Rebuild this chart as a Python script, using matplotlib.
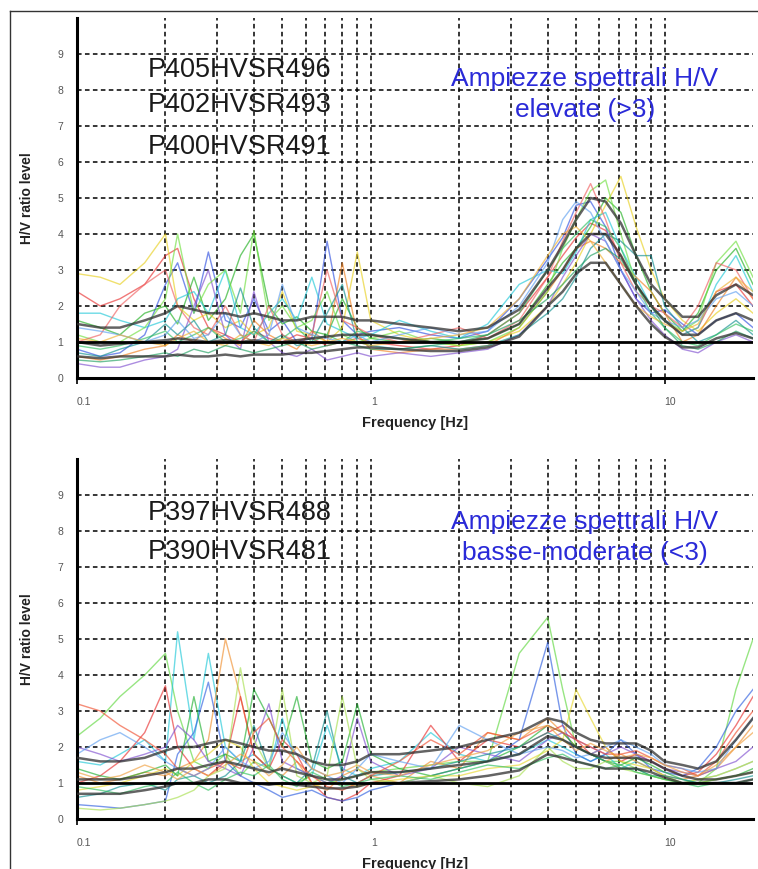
import matplotlib
matplotlib.use('Agg')
import matplotlib.pyplot as plt
from matplotlib.lines import Line2D

# frequency grid (Hz) shared by all the curves
freq = [0.10, 0.12, 0.14, 0.17, 0.20, 0.22, 0.25, 0.28, 0.32, 0.36, 0.40, 0.45, 0.50, 0.56, 0.63, 0.71, 0.80, 0.90,
        1.0, 1.25, 1.6, 2.0, 2.5, 3.2, 4.0, 4.5, 5.0, 5.6, 6.3, 7.1, 8.0, 9.0, 10.0, 11.5, 13.0, 15.0, 17.5, 20.0]

# top panel - single HVSR curves (high amplitudes > 3)
top_1 = [2.4, 2.0, 2.2, 2.6, 3.4, 3.6, 2.2, 1.4, 1.2, 1.0, 1.3, 1.1, 1.0, 1.2, 1.1, 0.9, 1.0, 1.1, 1.0, 0.9, 0.8, 0.9, 1.2, 1.8, 2.8, 3.4, 3.9, 4.3, 4.1, 3.4, 2.6, 2.0, 1.6, 1.2, 1.4, 2.4, 2.6, 2.0]
top_2 = [0.8, 0.6, 0.7, 1.2, 2.6, 3.2, 1.8, 3.5, 1.6, 1.4, 2.2, 1.3, 1.6, 1.0, 1.1, 3.8, 1.6, 1.2, 1.3, 1.4, 1.2, 1.1, 1.3, 2.2, 3.3, 3.9, 4.8, 4.9, 4.2, 3.0, 2.2, 1.8, 1.9, 1.5, 1.2, 1.6, 1.8, 1.4]
top_3 = [1.6, 1.4, 1.2, 1.8, 2.0, 1.5, 2.8, 1.6, 2.2, 3.4, 4.0, 2.0, 1.5, 1.7, 1.3, 1.2, 2.2, 1.4, 1.1, 1.0, 1.1, 1.0, 1.1, 1.5, 2.6, 3.2, 3.6, 4.2, 5.0, 4.6, 3.4, 2.4, 1.8, 1.3, 1.8, 3.0, 3.6, 2.6]
top_4 = [2.9, 2.8, 2.6, 3.2, 4.0, 2.0, 1.6, 1.8, 1.4, 1.6, 1.2, 1.4, 2.4, 1.3, 1.2, 1.0, 1.4, 3.5, 1.6, 1.2, 1.0, 0.9, 1.0, 1.3, 2.0, 2.6, 3.2, 4.0, 4.8, 5.6, 4.2, 3.0, 2.2, 1.6, 1.3, 1.8, 2.2, 1.8]
top_5 = [1.8, 1.8, 1.6, 1.4, 1.6, 2.2, 2.4, 1.8, 3.0, 1.4, 1.2, 1.8, 2.2, 1.6, 2.8, 1.5, 1.3, 1.1, 1.2, 1.6, 1.3, 1.1, 1.5, 2.6, 3.0, 2.9, 3.5, 4.4, 4.6, 3.6, 2.8, 2.0, 1.6, 1.2, 1.4, 2.6, 3.4, 2.4]
top_6 = [0.6, 0.5, 0.6, 0.8, 0.9, 1.2, 1.0, 1.4, 1.1, 0.9, 1.6, 1.2, 1.0, 0.8, 1.3, 1.0, 3.2, 1.2, 0.8, 0.7, 0.8, 0.8, 0.9, 1.4, 2.4, 3.0, 3.6, 3.8, 3.6, 3.2, 2.8, 2.4, 1.8, 1.0, 1.2, 2.0, 2.8, 2.2]
top_7 = [0.4, 0.3, 0.3, 0.5, 0.6, 0.8, 2.0, 3.0, 1.2, 0.8, 2.4, 1.0, 0.7, 0.6, 0.8, 0.5, 0.6, 0.7, 0.6, 0.7, 0.6, 0.7, 0.8, 1.2, 2.0, 2.8, 3.4, 4.0, 3.8, 3.0, 2.2, 1.6, 1.2, 0.8, 0.7, 1.0, 1.2, 1.0]
top_8 = [1.2, 1.0, 1.0, 1.4, 2.2, 4.0, 1.8, 2.6, 3.0, 1.8, 4.1, 1.6, 2.0, 1.4, 1.6, 2.4, 1.2, 1.0, 1.1, 1.3, 1.0, 0.9, 1.0, 1.4, 2.4, 3.6, 4.4, 5.2, 5.5, 4.0, 2.6, 2.0, 1.6, 1.3, 1.6, 3.2, 3.8, 2.8]
top_9 = [0.7, 0.6, 0.8, 1.0, 1.5, 1.2, 1.6, 1.0, 1.2, 2.5, 1.4, 1.0, 1.2, 0.9, 1.0, 1.8, 2.6, 1.0, 0.9, 0.8, 0.9, 0.8, 0.9, 1.2, 1.8, 2.2, 2.8, 3.6, 4.0, 3.8, 3.4, 3.4, 2.0, 1.4, 1.0, 1.2, 1.6, 1.2]
top_10 = [1.0, 1.2, 2.0, 2.6, 3.0, 2.0, 1.4, 1.2, 2.0, 1.2, 1.0, 2.0, 1.2, 1.0, 1.2, 3.0, 1.6, 1.4, 1.2, 1.0, 1.2, 1.4, 1.1, 1.6, 2.8, 3.8, 4.6, 5.4, 4.4, 3.2, 2.4, 2.0, 1.8, 1.4, 2.0, 3.2, 3.0, 2.2]
top_11 = [0.9, 0.8, 0.9, 1.1, 1.3, 1.0, 1.2, 1.4, 1.0, 1.1, 1.3, 1.0, 1.1, 1.4, 1.0, 1.2, 1.0, 1.3, 1.2, 1.1, 1.0, 1.1, 1.2, 1.8, 3.0, 3.6, 4.0, 4.4, 4.2, 3.6, 2.6, 1.8, 1.4, 1.0, 0.9, 1.2, 1.5, 1.3]
top_12 = [1.4, 1.3, 1.2, 1.0, 1.2, 1.6, 1.1, 1.2, 1.8, 1.2, 1.0, 1.2, 2.6, 1.4, 1.2, 1.1, 1.0, 1.2, 1.0, 1.2, 1.4, 1.2, 1.3, 2.0, 3.2, 4.4, 4.9, 4.6, 3.8, 3.0, 2.4, 1.8, 1.6, 1.4, 1.6, 2.2, 2.4, 2.0]
top_13 = [1.1, 1.0, 1.2, 1.0, 0.9, 1.1, 1.3, 1.0, 0.9, 1.2, 1.0, 0.9, 1.1, 1.0, 0.9, 1.0, 1.1, 1.0, 0.9, 1.0, 1.1, 1.2, 1.4, 2.2, 3.4, 4.0, 4.2, 3.8, 3.2, 2.6, 2.0, 1.7, 1.5, 1.3, 1.5, 2.4, 2.8, 2.4]
top_14 = [0.5, 0.45, 0.5, 0.6, 0.7, 0.6, 0.8, 0.7, 0.9, 0.8, 0.7, 0.8, 0.9, 1.0, 0.8, 0.9, 1.0, 0.9, 0.8, 0.8, 0.9, 1.0, 1.2, 1.6, 2.2, 2.6, 3.0, 3.4, 3.6, 3.3, 2.6, 2.0, 1.4, 0.9, 0.8, 1.0, 1.3, 1.1]

# top panel - average and +/- std curves
top_mean = [1.0, 0.9, 0.95, 1.0, 1.05, 1.1, 1.05, 1.0, 1.05, 1.0, 1.05, 1.0, 1.0, 1.05, 1.1, 1.15, 1.2, 1.2, 1.2, 1.1, 1.0, 1.0, 1.1, 1.5, 2.5, 3.0, 3.6, 4.0, 4.0, 3.4, 2.6, 2.0, 1.6, 1.2, 1.2, 1.6, 1.8, 1.6]
top_up = [1.5, 1.4, 1.4, 1.6, 1.8, 2.0, 1.9, 1.8, 1.8, 1.7, 1.8, 1.7, 1.6, 1.6, 1.7, 1.7, 1.7, 1.6, 1.6, 1.5, 1.4, 1.3, 1.4, 1.9, 3.0, 3.7, 4.4, 5.0, 4.9, 4.3, 3.4, 2.6, 2.2, 1.7, 1.7, 2.3, 2.6, 2.3]
top_low = [0.6, 0.55, 0.6, 0.6, 0.6, 0.65, 0.6, 0.6, 0.65, 0.6, 0.65, 0.65, 0.65, 0.7, 0.7, 0.75, 0.8, 0.85, 0.85, 0.8, 0.75, 0.75, 0.85, 1.15, 2.0, 2.4, 2.9, 3.2, 3.2, 2.6, 2.0, 1.5, 1.15, 0.85, 0.85, 1.1, 1.25, 1.1]

# bottom panel - single HVSR curves (low-moderate amplitudes < 3)
bot_1 = [2.3, 2.8, 3.4, 4.0, 4.6, 3.0, 1.6, 1.4, 1.8, 1.2, 1.6, 1.4, 1.2, 1.0, 1.2, 1.0, 1.1, 1.2, 1.3, 1.4, 1.5, 1.6, 1.6, 4.6, 5.6, 3.6, 2.0, 1.8, 1.6, 1.6, 1.4, 1.2, 1.1, 1.0, 1.0, 1.4, 3.6, 5.0]
bot_2 = [1.6, 1.5, 1.8, 2.2, 1.6, 5.2, 2.2, 4.6, 2.0, 1.6, 1.8, 1.4, 2.8, 1.4, 1.2, 2.6, 1.4, 1.2, 1.4, 1.6, 2.4, 1.8, 1.6, 1.8, 2.2, 2.0, 1.8, 1.6, 1.8, 1.4, 1.6, 1.4, 1.2, 1.0, 1.1, 1.2, 1.4, 1.6]
bot_3 = [1.2, 1.0, 1.1, 1.3, 1.2, 1.4, 1.6, 2.2, 5.0, 3.4, 1.8, 1.4, 1.2, 1.6, 1.0, 0.8, 1.2, 1.4, 1.2, 1.0, 1.6, 1.4, 2.4, 2.2, 2.8, 2.4, 2.0, 1.8, 1.6, 1.8, 1.6, 1.4, 1.2, 1.1, 1.2, 1.4, 2.0, 2.6]
bot_4 = [1.0, 1.2, 1.6, 2.4, 3.7, 2.0, 1.4, 1.2, 1.6, 3.4, 1.8, 1.4, 2.2, 1.8, 1.0, 0.6, 0.5, 0.7, 1.0, 1.2, 2.6, 1.6, 2.2, 2.0, 2.4, 2.6, 2.2, 1.8, 2.0, 1.6, 1.8, 1.6, 1.4, 1.2, 1.3, 1.8, 2.6, 3.4]
bot_5 = [0.4, 0.35, 0.3, 0.4, 0.5, 1.8, 2.4, 3.8, 1.6, 1.2, 1.0, 0.8, 0.6, 0.7, 0.8, 0.6, 0.5, 0.6, 0.8, 1.0, 1.2, 1.4, 1.6, 2.2, 4.9, 2.6, 1.8, 1.6, 1.8, 2.2, 1.8, 1.4, 1.3, 1.2, 1.4, 2.0, 3.0, 3.6]
bot_6 = [0.8, 0.9, 1.0, 1.2, 1.4, 1.2, 1.6, 1.8, 2.2, 2.0, 1.4, 1.0, 0.9, 0.8, 0.9, 1.0, 1.0, 0.9, 1.0, 1.1, 1.2, 1.2, 1.4, 1.5, 1.9, 2.2, 3.6, 2.8, 2.0, 1.6, 1.5, 1.4, 1.2, 1.0, 1.1, 1.2, 1.4, 1.6]
bot_7 = [1.4, 1.2, 1.1, 1.3, 1.5, 1.2, 3.4, 1.6, 1.8, 1.6, 3.6, 2.8, 2.0, 3.4, 1.6, 1.4, 1.6, 3.2, 1.8, 1.4, 1.2, 1.4, 1.6, 2.0, 2.6, 2.4, 2.0, 1.8, 1.6, 1.5, 1.7, 1.5, 1.3, 1.1, 1.0, 1.1, 1.2, 1.4]
bot_8 = [2.0, 1.8, 1.6, 1.8, 2.0, 2.6, 2.2, 1.6, 1.4, 1.2, 2.0, 3.2, 1.6, 1.4, 1.2, 1.0, 1.2, 2.8, 1.6, 1.2, 1.4, 2.0, 1.8, 1.6, 2.2, 2.4, 2.2, 2.0, 1.8, 2.0, 1.8, 1.6, 1.4, 1.3, 1.2, 1.4, 1.6, 2.0]
bot_9 = [0.6, 0.7, 0.9, 1.0, 0.8, 1.1, 1.2, 1.0, 1.2, 1.6, 2.6, 1.4, 1.2, 1.0, 1.4, 3.0, 1.2, 1.0, 1.2, 1.3, 1.4, 1.6, 1.8, 2.0, 2.4, 2.2, 2.0, 1.8, 1.6, 1.4, 1.4, 1.2, 1.2, 1.1, 1.0, 1.0, 1.1, 1.2]
bot_10 = [0.3, 0.25, 0.3, 0.4, 0.5, 0.6, 0.8, 1.2, 1.4, 4.2, 2.2, 1.4, 3.6, 1.2, 1.0, 1.2, 3.4, 1.4, 1.1, 1.0, 1.2, 1.0, 0.9, 1.2, 2.0, 1.6, 1.4, 1.4, 1.6, 1.4, 1.3, 1.2, 1.1, 1.0, 1.0, 1.1, 1.2, 1.3]
bot_11 = [3.2, 3.0, 2.6, 2.2, 1.8, 1.4, 1.2, 1.4, 1.6, 1.4, 2.4, 2.8, 2.0, 1.6, 1.2, 0.9, 0.8, 1.0, 1.2, 1.6, 2.2, 1.8, 2.4, 2.2, 2.6, 2.4, 2.2, 2.0, 1.8, 1.8, 1.9, 1.7, 1.5, 1.4, 1.2, 1.6, 2.4, 3.0]
bot_12 = [1.8, 2.2, 2.4, 2.0, 1.6, 1.4, 1.2, 1.4, 2.0, 1.6, 1.4, 1.6, 2.4, 1.8, 1.4, 1.2, 1.0, 1.4, 1.8, 1.6, 1.4, 2.6, 2.2, 1.8, 2.0, 1.9, 1.7, 1.8, 2.0, 2.2, 2.0, 1.8, 1.5, 1.4, 1.3, 1.4, 2.2, 2.8]
bot_13 = [0.9, 0.8, 0.7, 0.9, 1.0, 1.3, 1.0, 0.8, 1.1, 1.3, 1.2, 1.5, 1.1, 0.9, 1.3, 1.1, 0.9, 1.0, 1.1, 1.2, 1.1, 1.3, 1.5, 1.4, 1.7, 1.8, 1.6, 1.5, 1.4, 1.5, 1.3, 1.2, 1.1, 1.0, 0.9, 1.0, 1.0, 1.1]
bot_14 = [1.3, 1.1, 1.2, 1.5, 1.3, 1.1, 1.4, 1.2, 1.5, 1.8, 1.6, 1.2, 1.5, 2.0, 1.4, 1.2, 1.3, 1.5, 1.3, 1.2, 1.5, 1.7, 1.9, 2.4, 2.6, 2.2, 1.9, 2.1, 1.9, 1.7, 1.8, 1.7, 1.5, 1.3, 1.2, 1.5, 2.0, 2.4]

# bottom panel - average and +/- std curves
bot_mean = [1.1, 1.1, 1.1, 1.2, 1.3, 1.4, 1.4, 1.5, 1.6, 1.5, 1.4, 1.3, 1.4, 1.3, 1.2, 1.1, 1.1, 1.2, 1.3, 1.3, 1.4, 1.5, 1.6, 1.8, 2.3, 2.2, 2.0, 1.8, 1.7, 1.7, 1.7, 1.6, 1.4, 1.2, 1.1, 1.1, 1.2, 1.3]
bot_up = [1.7, 1.6, 1.6, 1.7, 1.9, 2.0, 2.0, 2.1, 2.2, 2.1, 2.0, 1.9, 1.9, 1.8, 1.6, 1.5, 1.5, 1.6, 1.8, 1.8, 1.9, 2.0, 2.2, 2.4, 2.8, 2.7, 2.4, 2.2, 2.1, 2.1, 2.1, 1.9, 1.6, 1.5, 1.4, 1.6, 2.2, 2.8]
bot_low = [0.7, 0.7, 0.7, 0.8, 0.9, 1.0, 1.0, 1.1, 1.1, 1.0, 1.0, 0.95, 1.0, 0.95, 0.9, 0.85, 0.85, 0.9, 1.0, 1.0, 1.05, 1.1, 1.2, 1.35, 1.8, 1.7, 1.6, 1.5, 1.4, 1.4, 1.4, 1.3, 1.15, 1.0, 1.0, 1.0, 1.0, 1.1]

top_curves = [top_1, top_2, top_3, top_4, top_5, top_6, top_7, top_8, top_9, top_10, top_11, top_12, top_13, top_14]
bot_curves = [bot_1, bot_2, bot_3, bot_4, bot_5, bot_6, bot_7, bot_8, bot_9, bot_10, bot_11, bot_12, bot_13, bot_14]
top_thick = [top_mean, top_up, top_low]
bot_thick = [bot_mean, bot_up, bot_low]

top_labels = ['P405HVSR496', 'P402HVSR493', 'P400HVSR491']
bot_labels = ['P397HVSR488', 'P390HVSR481']
top_note = 'Ampiezze spettrali H/V\nelevate (>3)'
bot_note = 'Ampiezze spettrali H/V\nbasse-moderate (<3)'

top_colors = ['#e83030', '#3050e0', '#20b020', '#e8d020', '#20c8d8', '#f08020', '#8050d0',
              '#70e040', '#109090', '#f06060', '#30c060', '#60a0f0', '#f0b030', '#20a060']
bot_colors = ['#60d840', '#20c8d8', '#f09030', '#e83030', '#3060e0', '#e8d830', '#20b030',
              '#8050d0', '#109090', '#a8e050', '#f05030', '#60a0f0', '#30c060', '#f0a040']

vgrid = [0.2, 0.3, 0.4, 0.5, 0.6, 0.7, 0.8, 0.9, 1, 2, 3, 4, 5, 6, 7, 8, 9, 10]
small_font = 'Liberation Sans'

fig = plt.figure(figsize=(7.58, 8.69), dpi=100)
fig.patch.set_facecolor('white')

# thin frame around the picture
fig.add_artist(Line2D([10 / 758, 10 / 758], [0, 1 - 11 / 869], color='#333333', lw=1))
fig.add_artist(Line2D([10 / 758, 1], [1 - 11 / 869, 1 - 11 / 869], color='#333333', lw=1))


def draw_panel(ax, curves, colors, thick, labels, label_y, note, note_y):
    ax.set_xscale('log')
    ax.set_xlim(0.1, 20)
    ax.set_ylim(0, 10)

    # dashed grid
    for g in vgrid:
        ax.axvline(g, color='black', lw=1.1, ls=(0, (3, 2.2)), zorder=0.5)
    for g in range(2, 10):
        ax.axhline(g, color='black', lw=1.1, ls=(0, (3, 2.2)), zorder=0.5)

    for i, c in enumerate(curves):
        ax.plot(freq, c, color=colors[i], lw=1.0, alpha=0.65, zorder=2)
    for c in thick:
        ax.plot(freq, c, color='#303030', lw=1.8, alpha=0.75, zorder=3)

    # reference line H/V = 1
    ax.axhline(1, color='black', lw=2, zorder=4)

    for s in ['top', 'right']:
        ax.spines[s].set_visible(False)
    for s in ['left', 'bottom']:
        ax.spines[s].set_linewidth(2.2)

    ax.set_yticks(range(0, 10))
    ax.set_yticklabels([str(v) for v in range(0, 10)])
    ax.tick_params(axis='y', length=0, pad=10, labelsize=7.5, labelcolor='#555555')
    ax.set_xticks([0.1, 1, 10])
    ax.set_xticklabels(['0.1', '1', '10'])
    ax.minorticks_off()
    ax.tick_params(axis='x', length=4, width=1.2, pad=10, labelsize=7.5, labelcolor='#555555')
    for t in ax.get_xticklabels():
        t.set_ha('left')
        t.set_family(small_font)
    for t in ax.get_yticklabels():
        t.set_family(small_font)

    ax.text(0.5, -0.125, 'Frequency [Hz]', transform=ax.transAxes, ha='center', va='center',
            fontsize=10.5, fontweight='bold', family=small_font, color='#222222')
    ax.text(-0.074, 0.5, 'H/V ratio level', transform=ax.transAxes, ha='center', va='center',
            rotation=90, fontsize=10, fontweight='bold', family=small_font, color='#222222')

    for lab, y in zip(labels, label_y):
        ax.text(0.241, y, lab, transform=ax.transAxes, ha='center', va='center',
                fontsize=19.5, family='Liberation Sans', color='#1a1a1a', zorder=5)
    ax.text(0.751, note_y, note, transform=ax.transAxes, ha='center', va='center',
            fontsize=19, family='Liberation Sans', color='#2a2ad8', linespacing=1.4, zorder=5)


ax1 = fig.add_axes([77 / 758, 1 - 378 / 869, 676 / 758, 360 / 869])
draw_panel(ax1, top_curves, top_colors, top_thick, top_labels, [0.856, 0.758, 0.642], top_note, 0.788)

ax2 = fig.add_axes([77 / 758, 1 - 819 / 869, 676 / 758, 360 / 869])
draw_panel(ax2, bot_curves, bot_colors, bot_thick, bot_labels, [0.85, 0.742], bot_note, 0.782)

fig.savefig('out.png', dpi=100)
